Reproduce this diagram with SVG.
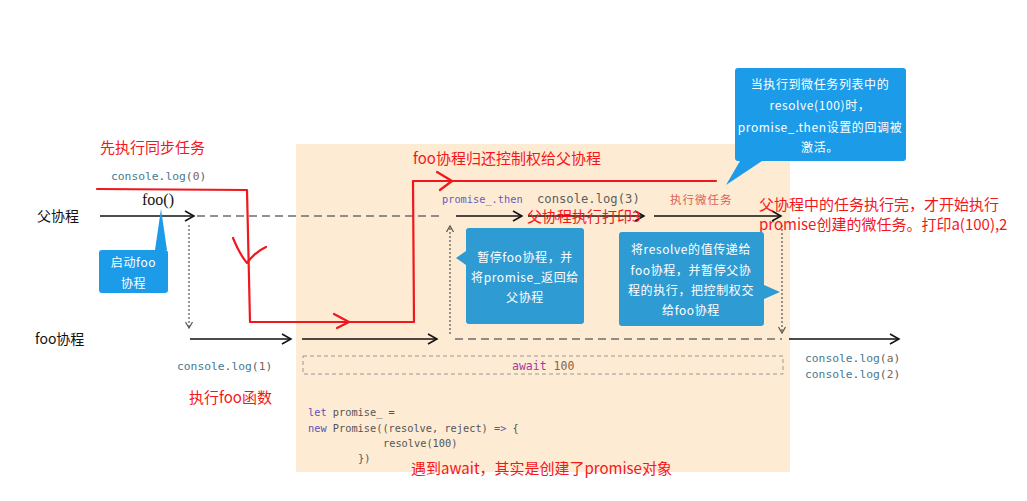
<svg xmlns="http://www.w3.org/2000/svg" width="1027" height="501" viewBox="0 0 1027 501">
<defs>
<style>
.bg{fill:#fdebd3}
.lbl{font-family:"Noto Sans CJK SC","Noto Sans",sans-serif;font-size:14px;fill:#111}
.red{font-family:"Noto Sans CJK SC","Noto Sans",sans-serif;font-size:15px;fill:#f5161b}
.mono{font-family:"DejaVu Sans Mono","Liberation Mono",monospace;font-size:11.3px;fill:#5e5e5e}
.code{font-family:"DejaVu Sans Mono","Liberation Mono",monospace;font-size:10.3px;fill:#555}
.kw{fill:#5b55b8}
.teal{fill:#477a8d}
.num{fill:#86634d}
.bt{font-family:"Noto Sans CJK SC","Noto Sans",sans-serif;font-size:12px;fill:#fff;text-anchor:middle;letter-spacing:0.6px}
.b1{fill:#1c9be9}
.b2{fill:#2e9bd3}
.ar{fill:none;stroke:#111;stroke-width:1.5}
.dash{fill:none;stroke:#6e6e6e;stroke-width:1.5;stroke-dasharray:8 5}
.dot{fill:none;stroke:#555;stroke-width:1.2;stroke-dasharray:2 2}
.rl{fill:none;stroke:#f0171d;stroke-width:2.2;stroke-linejoin:round;stroke-linecap:round}
</style>
<marker id="ah" markerWidth="12" markerHeight="12" refX="10" refY="6" orient="auto" markerUnits="userSpaceOnUse">
<path d="M1,1 L10,6 L1,11" fill="none" stroke="#111" stroke-width="1.5"/>
</marker>
<marker id="ahs" markerWidth="10" markerHeight="10" refX="8" refY="5" orient="auto" markerUnits="userSpaceOnUse">
<path d="M2,1.5 L8,5 L2,8.5" fill="none" stroke="#555" stroke-width="1.2"/>
</marker>
</defs>
<rect width="1027" height="501" fill="#fff"/>
<rect id="bg" class="bg" x="296" y="144" width="494" height="328"/>

<g id="connectors">
<line class="ar" x1="100" y1="216" x2="194" y2="216" marker-end="url(#ah)"/>
<line class="dash" x1="197" y1="216" x2="442" y2="216"/>
<line class="ar" x1="456" y1="216" x2="522" y2="216" marker-end="url(#ah)"/>
<line class="ar" x1="528" y1="216" x2="644" y2="216" marker-end="url(#ah)"/>
<line class="ar" x1="654" y1="216" x2="781" y2="216" marker-end="url(#ah)"/>
<line class="dot" x1="189" y1="225" x2="189" y2="328" marker-end="url(#ahs)"/>
<line class="ar" x1="190" y1="339" x2="291" y2="339" marker-end="url(#ah)"/>
<line class="ar" x1="302" y1="339" x2="437" y2="339" marker-end="url(#ah)"/>
<line class="dash" x1="455" y1="339" x2="782" y2="339"/>
<line class="ar" x1="789" y1="339" x2="899" y2="339" marker-end="url(#ah)"/>
<line class="dot" x1="450" y1="334" x2="450" y2="226" marker-end="url(#ahs)"/>
<line class="dot" x1="782" y1="225" x2="782" y2="333" marker-end="url(#ahs)"/>
<rect x="303" y="356" width="480" height="18" fill="none" stroke="#999" stroke-width="1" stroke-dasharray="4 3"/>
</g>

<g id="red-lines">
<path class="rl" d="M97,189 L247,190 L250,322 L414,322 L413,181 L716,181"/>
<path class="rl" d="M233,238 Q240,255 247,263 Q255,252 266,247"/>
<path class="rl" d="M334,314 L349,322 L337,328"/>
<path class="rl" d="M437,172 L452,181 L440,190"/>
</g>

<g id="labels">
<text class="lbl" x="37" y="221">父协程</text>
<text class="lbl" x="35" y="344">foo协程</text>
<text x="142" y="205" font-family="Liberation Serif,serif" font-size="16" fill="#111">foo()</text>
<text class="mono" x="111" y="180"><tspan class="teal">console</tspan>.<tspan class="teal">log</tspan>(<tspan class="num">0</tspan>)</text>
<text class="mono" x="177" y="370"><tspan class="teal">console</tspan>.<tspan class="teal">log</tspan>(<tspan class="num">1</tspan>)</text>
<text class="mono" x="537" y="203" style="font-size:12.2px">console.log(3)</text>
<text class="mono" x="442" y="203" style="fill:#6a5cc0;font-size:10.3px">promise_.then</text>
<text x="670" y="204" font-family="Noto Sans CJK SC,sans-serif" font-size="11.5" fill="#d9625a" letter-spacing="1">执行微任务</text>
<text class="mono" x="805" y="362"><tspan class="teal">console</tspan>.<tspan class="teal">log</tspan>(<tspan class="num">a</tspan>)</text>
<text class="mono" x="805" y="378"><tspan class="teal">console</tspan>.<tspan class="teal">log</tspan>(<tspan class="num">2</tspan>)</text>
<text class="mono" x="512" y="370" style="font-size:11.5px"><tspan style="fill:#a43ca0">await</tspan> <tspan class="num">100</tspan></text>
<text class="code" x="308" y="416"><tspan class="kw">let</tspan> promise_ =</text>
<text class="code" x="308" y="432"><tspan class="kw">new</tspan> Promise((resolve, reject) <tspan class="kw">=&gt;</tspan> {</text>
<text class="code" x="383" y="447">resolve(100)</text>
<text class="code" x="358" y="462">})</text>
</g>

<g id="red-notes">
<text class="red" x="100" y="153">先执行同步任务</text>
<text class="red" x="413" y="164" font-size="16">foo协程归还控制权给父协程</text>
<text class="red" x="527" y="222">父协程执行打印3</text>
<text class="red" x="759" y="210">父协程中的任务执行完，才开始执行</text>
<text class="red" x="759" y="230">promise创建的微任务。打印a(100),2</text>
<text class="red" x="189" y="403">执行foo函数</text>
<text class="red" x="411" y="474" font-size="16">遇到await，其实是创建了promise对象</text>
</g>

<g id="callout-start-foo">
<path class="b1" d="M102,250 L155,250 L161,209 L167,250 L165,250 Q168,250 168,253 L168,290 Q168,293 165,293 L102,293 Q99,293 99,290 L99,253 Q99,250 102,250 Z"/>
<text class="bt" x="133.5" y="267">启动foo</text>
<text class="bt" x="133.5" y="288">协程</text>
</g>

<g id="callout-pause-foo">
<path class="b2" d="M469,228 L581,228 Q584,228 584,231 L584,321 Q584,324 581,324 L469,324 Q466,324 466,321 L466,265 L456,258 L466,251 L466,231 Q466,228 469,228 Z"/>
<text class="bt" x="525" y="262">暂停foo协程，并</text>
<text class="bt" x="525" y="282">将promise_返回给</text>
<text class="bt" x="525" y="302">父协程</text>
</g>

<g id="callout-resolve">
<path class="b2" d="M622,232 L761,232 Q764,232 764,235 L764,285 L780,292 L764,299 L764,323 Q764,326 761,326 L622,326 Q619,326 619,323 L619,235 Q619,232 622,232 Z"/>
<text class="bt" x="691" y="254">将resolve的值传递给</text>
<text class="bt" x="691" y="275">foo协程，并暂停父协</text>
<text class="bt" x="691" y="295">程的执行，把控制权交</text>
<text class="bt" x="691" y="315">给foo协程</text>
</g>

<g id="callout-microtask">
<path class="b1" d="M738,68 L903,68 Q906,68 906,71 L906,158 Q906,161 903,161 L762,161 L726,185 L740,161 L738,161 Q735,161 735,158 L735,71 Q735,68 738,68 Z"/>
<text class="bt" x="820" y="89">当执行到微任务列表中的</text>
<text class="bt" x="820" y="110">resolve(100)时，</text>
<text class="bt" x="820" y="132" letter-spacing="0">promise_.then设置的回调被</text>
<text class="bt" x="820" y="152">激活。</text>
</g>
</svg>
